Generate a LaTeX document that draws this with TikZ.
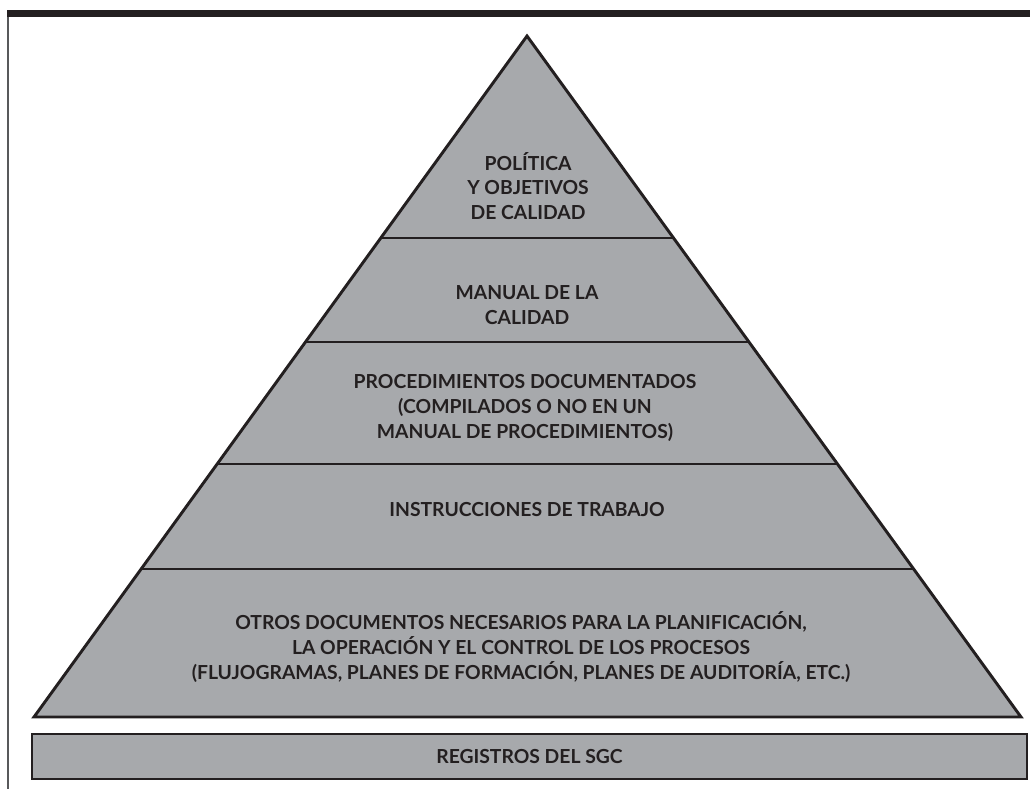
\documentclass[tikz,border=0pt]{standalone}
\usepackage{fontspec}
\setmainfont{Lato}
\usepackage{xcolor}
\usetikzlibrary{calc,positioning}

\definecolor{ink}{HTML}{231F20}
\definecolor{stone}{HTML}{A7A9AC}
\definecolor{rule}{HTML}{58595B}

\begin{document}
\begin{tikzpicture}[
  x=0.75pt, y=-0.75pt,
  level/.style={align=center, text=ink, font=\fontsize{14.5}{18.5}\selectfont\bfseries},
  edge/.style={draw=ink, line width=2.2pt},
]
\useasboundingbox (0,0) rectangle (1030,789);

% frame
\fill[ink] (7,10) rectangle (1030,17);
\draw[rule, line width=1.6pt] (7.8,17) -- (7.8,789);

% pyramid
\coordinate (apex) at (527,36);
\coordinate (bl) at (34,717);
\coordinate (br) at (1021,717);
\draw[edge, fill=stone, line join=miter] (apex) -- (br) -- (bl) -- cycle;

\foreach \t in {0.2966, 0.4493, 0.6285, 0.7827}
  \draw[edge] ($(apex)!\t!(bl)$) -- ($(apex)!\t!(br)$);

% levels
\node[level] (politica) at (528,186) {POLÍTICA\\Y OBJETIVOS\\DE CALIDAD};
\node[level] (manual) at (527,305) {MANUAL DE LA\\CALIDAD};
\node[level] (procs) at (525,408) {PROCEDIMIENTOS DOCUMENTADOS\\(COMPILADOS O NO EN UN\\MANUAL DE PROCEDIMIENTOS)};
\node[level] (instr) at (527,510) {INSTRUCCIONES DE TRABAJO};
\node[level] (otros) at (521,647) {OTROS DOCUMENTOS NECESARIOS PARA LA PLANIFICACIÓN,\\LA OPERACIÓN Y EL CONTROL DE LOS PROCESOS\\(FLUJOGRAMAS, PLANES DE FORMACIÓN, PLANES DE AUDITORÍA, ETC.)};

% records
\node[edge, fill=stone, minimum width=995*0.75pt, minimum height=45*0.75pt, inner sep=0pt,
      level] (registros) at (529.5,756.5) {REGISTROS DEL SGC};

\end{tikzpicture}
\end{document}
